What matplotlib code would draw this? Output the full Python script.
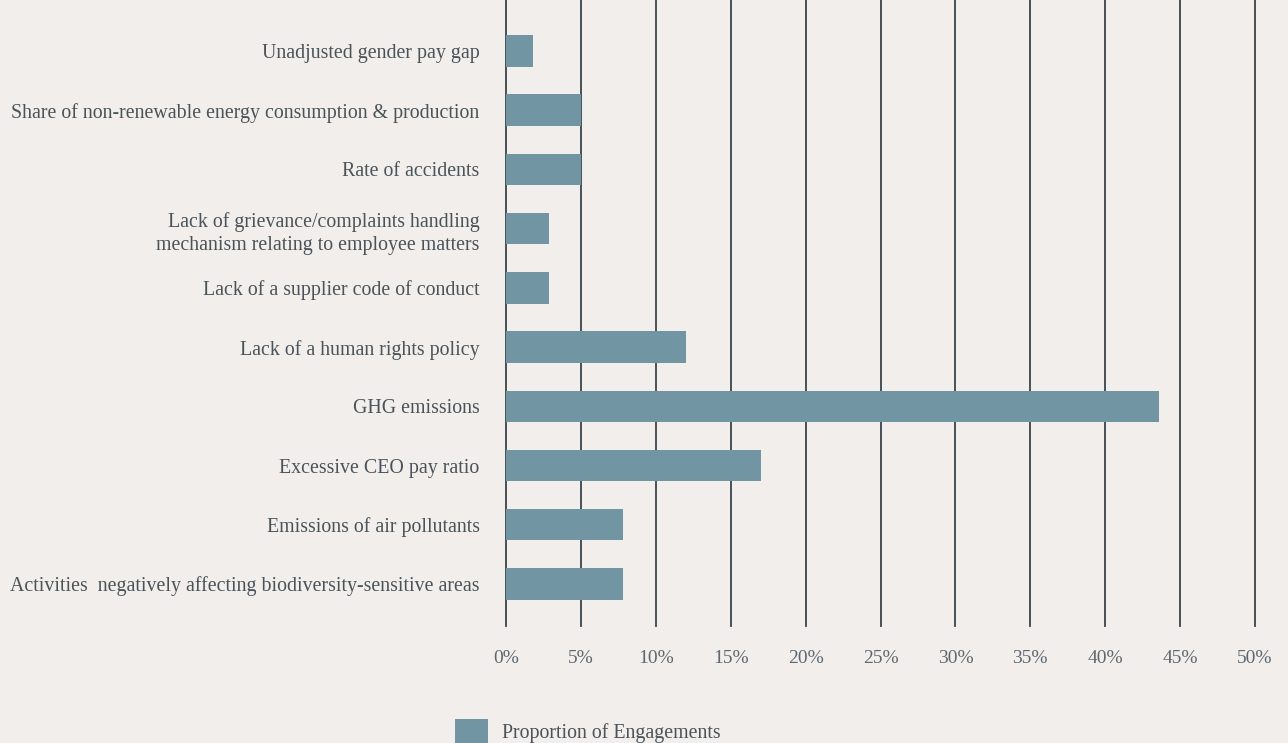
import matplotlib
matplotlib.use("Agg")
import matplotlib.pyplot as plt
from matplotlib.patches import Patch

# --- data ---
categories = [
    "Unadjusted gender pay gap",
    "Share of non-renewable energy consumption & production",
    "Rate of accidents",
    "Lack of grievance/complaints handling\nmechanism relating to employee matters",
    "Lack of a supplier code of conduct",
    "Lack of a human rights policy",
    "GHG emissions",
    "Excessive CEO pay ratio",
    "Emissions of air pollutants",
    "Activities  negatively affecting biodiversity-sensitive areas",
]
values = [1.8, 5.0, 5.0, 2.9, 2.9, 12.0, 43.6, 17.0, 7.8, 7.8]
x_ticks = [0, 5, 10, 15, 20, 25, 30, 35, 40, 45, 50]
x_labels = [f"{t}%" for t in x_ticks]
legend_label = "Proportion of Engagements"

bg = "#f1eeeb"
bar_color = "#7295a3"
grid_color = "#3a444b"
text_color = "#4a5359"

plt.rcParams["font.family"] = ["Liberation Serif", "DejaVu Serif"]

fig = plt.figure(figsize=(12.88, 7.43), dpi=100, facecolor=bg)
ax = fig.add_axes([506 / 1288, 117 / 743, (1255 - 506) / 1288, 626 / 743])
ax.set_facecolor(bg)

y = list(range(len(categories)))
ax.set_xlim(0, 50)
ax.set_ylim(9.71, -0.86)

# vertical gridlines, drawn unclipped so the edge ones keep full width
for t in x_ticks:
    ax.axvline(t, color=grid_color, lw=1.3, zorder=1, clip_on=False)
ax.barh(y, values, height=0.53, color=bar_color, zorder=2)

ax.set_yticks(y)
ax.set_yticklabels(categories, fontsize=14.3, color=text_color, linespacing=1.3)
ax.set_xticks(x_ticks)
ax.set_xticklabels(x_labels, fontsize=14, color="#5f6870")
ax.tick_params(axis="both", length=0)
ax.tick_params(axis="y", pad=19)
ax.tick_params(axis="x", pad=17)
for s in ax.spines.values():
    s.set_visible(False)

handle = Patch(facecolor=bar_color, edgecolor="none", label=legend_label)
fig.legend(handles=[handle], loc="center left", bbox_to_anchor=(455 / 1288, 1 - 732 / 743),
           frameon=False, fontsize=14.3, labelcolor=text_color, borderpad=0, borderaxespad=0,
           handlelength=1.65, handleheight=1.65, handletextpad=0.72)

fig.savefig("out.png", dpi=100, facecolor=bg)
